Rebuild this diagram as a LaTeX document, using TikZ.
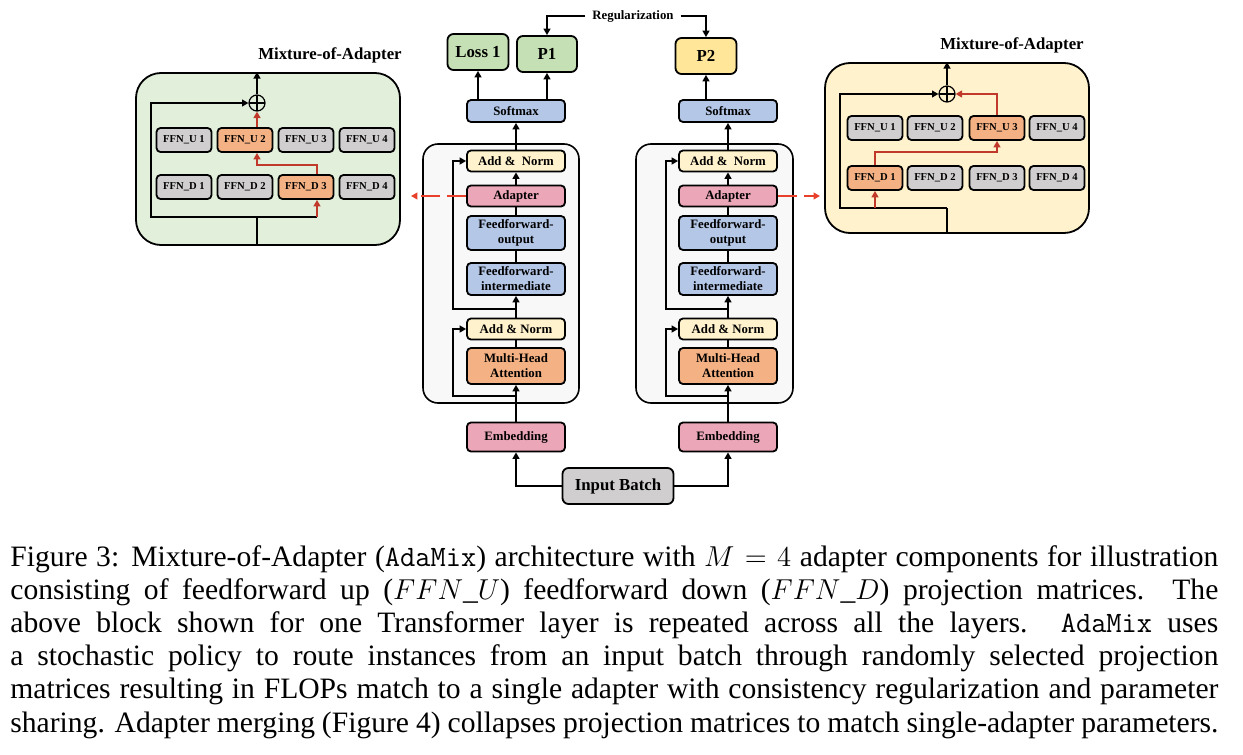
\documentclass[tikz,border=0pt]{standalone}
\usepackage{fontspec}
\setmainfont{Liberation Serif}
\usetikzlibrary{arrows.meta}

\definecolor{panelgreen}{HTML}{E2EFDA}
\definecolor{panelcream}{HTML}{FFF2CC}
\definecolor{blockgray}{HTML}{F8F8F8}
\definecolor{ffngray}{HTML}{D0CECE}
\definecolor{selorange}{HTML}{F4B183}
\definecolor{outgreen}{HTML}{C5E0B4}
\definecolor{outyellow}{HTML}{FFE699}
\definecolor{layerblue}{HTML}{B4C7E7}
\definecolor{layerpink}{HTML}{EBA6B8}
\definecolor{normcream}{HTML}{FFF2CC}
\definecolor{routered}{HTML}{C0392B}
\definecolor{probered}{HTML}{E8402A}

\begin{document}
\begin{tikzpicture}[
  x=0.5pt, y=-0.5pt,
  every node/.style={font=\bfseries\fontsize{6.4}{7.5}\selectfont},
  layer/.style={rectangle,draw,rounded corners=2pt,line width=0.9pt,minimum width=49pt,minimum height=10.5pt,inner sep=0pt,align=center},
  ffn/.style={layer,fill=ffngray,minimum width=27.5pt,minimum height=12pt,font=\bfseries\fontsize{5.3}{6}\selectfont},
  sel/.style={ffn,fill=selorange},
  outbox/.style={layer,rounded corners=3pt,minimum width=30.5pt,minimum height=18pt,font=\bfseries\fontsize{8.4}{10}\selectfont},
  block/.style={rectangle,draw,rounded corners=7.5pt,line width=0.8pt,fill=blockgray,inner sep=0pt},
  panel/.style={rectangle,draw,rounded corners=12.5pt,line width=0.9pt,inner sep=0pt,minimum width=132pt},
  title/.style={font=\bfseries\fontsize{8.4}{10}\selectfont},
  sumnode/.style={circle,draw,line width=0.6pt,minimum size=8pt,inner sep=0pt,
    path picture={\draw[line width=0.6pt] (path picture bounding box.north) -- (path picture bounding box.south)
      (path picture bounding box.west) -- (path picture bounding box.east);}},
  link/.style={line width=1pt},
  arr/.style={link,-{Triangle[length=3.2pt,width=3.4pt]}},
  route/.style={arr,draw=routered},
  probe/.style={arr,draw=probered,dash pattern=on 9.5pt off 3.5pt}
]
\useasboundingbox (0,0) rectangle (1243,755);

% transformer layers
\node[block,minimum width=78pt,minimum height=129.5pt] (blockL) at (501,273.5) {};
\node[block,minimum width=78.5pt,minimum height=129.5pt] (blockR) at (714.5,273.5) {};
\foreach \s/\x/\r in {L/516/453,R/728/666} {
  \node[layer,fill=layerblue,minimum height=11pt] (soft\s) at (\x,111) {Softmax};
  \node[layer,fill=normcream] (addtop\s) at (\x,161) {Add \&~~Norm};
  \node[layer,fill=layerpink] (adapt\s) at (\x,196) {Adapter};
  \node[layer,fill=layerblue,minimum height=17pt] (ffo\s) at (\x,233) {Feedforward-\\output};
  \node[layer,fill=layerblue,minimum height=16pt] (ffi\s) at (\x,279) {Feedforward-\\intermediate};
  \node[layer,fill=normcream] (addbot\s) at (\x,329) {Add \& Norm};
  \node[layer,fill=selorange,minimum height=18pt] (mha\s) at (\x,366) {Multi-Head\\Attention};
  \node[layer,fill=layerpink,minimum height=14.5pt] (emb\s) at (\x,437) {Embedding};
  \coordinate (res\s a) at (\r,396);
  \coordinate (res\s b) at (\r,309);
  \draw[arr] (emb\s) -- (mha\s);
  \draw[arr] (mha\s.south |- res\s a) -- (res\s a) |- (addbot\s.west);
  \draw[link] (mha\s) -- (addbot\s);
  \draw[arr] (addbot\s) -- (ffi\s);
  \draw[arr] (addbot\s.north |- res\s b) -- (res\s b) |- (addtop\s.west);
  \draw[link] (ffi\s) -- (ffo\s);
  \draw[link] (ffo\s) -- (adapt\s);
  \draw[arr] (adapt\s) -- (addtop\s);
  \draw[arr] (addtop\s) -- (soft\s);
}

% outputs
\node[outbox,fill=outgreen] (loss) at (478,52) {Loss 1};
\node[outbox,fill=outgreen,minimum width=30pt] (p1) at (547,54) {P1};
\node[outbox,fill=outyellow] (p2) at (706,56) {P2};
\node (reg) at (633,16) {Regularization};
\draw[arr] (softL.north -| loss) -- (loss.south);
\draw[arr] (softL.north -| p1) -- (p1.south);
\draw[arr] (softR.north -| p2) -- (p2.south);
\draw[arr] (reg.west) -| (p1.north);
\draw[arr] (reg.east) -| (p2.north);

% input
\node[outbox,fill=ffngray,minimum width=55.5pt] (batch) at (618,486) {Input Batch};
\draw[arr] (batch.west) -| (embL.south);
\draw[arr] (batch.east) -| (embR.south);

% mixture of adapter, left
\node[panel,fill=panelgreen,minimum height=86pt] (mixL) at (268,159) {};
\node[title] (titleL) at (330,55) {Mixture-of-Adapter};
\node[sumnode] (sumL) at (257,103) {};
\foreach \i/\x/\su/\sd in {1/184/ffn/ffn,2/245/sel/ffn,3/306/ffn/sel,4/367/ffn/ffn} {
  \node[\su] (uL\i) at (\x,140) {FFN\_U \i};
  \node[\sd] (dL\i) at (\x,187) {FFN\_D \i};
}
\coordinate (forkL) at (257,217);
\coordinate (cornerL) at (151,217);
\coordinate (tapL) at (317,217);
\coordinate (bendL) at (257,165);
\draw[arr] (sumL) -- (sumL |- mixL.north);
\draw[link] (sumL |- mixL.south) -- (forkL);
\draw[arr] (forkL) -- (cornerL) |- (sumL.west);
\draw[link] (forkL) -- (tapL);
\draw[route] (tapL) -- (tapL |- dL3.south);
\draw[route] (tapL |- dL3.north) |- (bendL) -- (bendL |- uL2.south);
\draw[route] (sumL |- uL2.north) -- (sumL.south);

% mixture of adapter, right
\node[panel,fill=panelcream,minimum height=85pt] (mixR) at (957,148) {};
\node[title] (titleR) at (1012,45) {Mixture-of-Adapter};
\node[sumnode] (sumR) at (947,94) {};
\foreach \i/\x/\su/\sd in {1/875/ffn/sel,2/935/ffn/ffn,3/997/sel/ffn,4/1057/ffn/ffn} {
  \node[\su] (uR\i) at (\x,128) {FFN\_U \i};
  \node[\sd] (dR\i) at (\x,178) {FFN\_D \i};
}
\coordinate (forkR) at (947,208);
\coordinate (cornerR) at (840,208);
\coordinate (tapR) at (875,208);
\coordinate (bendR) at (997,152);
\draw[arr] (sumR) -- (sumR |- mixR.north);
\draw[link] (sumR |- mixR.south) -- (forkR);
\draw[arr] (forkR) -- (cornerR) |- (sumR.west);
\draw[route] (tapR) -- (tapR |- dR1.south);
\draw[route] (tapR |- dR1.north) |- (bendR) -- (bendR |- uR3.south);
\draw[route] (bendR |- uR3.north) |- (sumR.east);

% adapter call-outs
\coordinate (tipL) at (411,196);
\coordinate (tipR) at (820,196);
\draw[probe] (adaptL.west) -- (tipL);
\draw[probe] (adaptR.east) -- (tipR);

% caption
\node[anchor=base west,inner sep=0pt,font=\fontsize{14.8}{16.6}\selectfont] (caption) at (10,566) {\vtop{\hsize=604pt \baselineskip=16.6pt
  \hbox to\hsize{Figure 3: Mixture-of-Adapter (\texttt{AdaMix}) architecture with $M=4$ adapter components for illustration}
  \hbox to\hsize{consisting of feedforward up ($FFN\_U$) feedforward down ($FFN\_D$) projection matrices. The}
  \hbox to\hsize{above block shown for one Transformer layer is repeated across all the layers. \texttt{AdaMix} uses}
  \hbox to\hsize{a stochastic policy to route instances from an input batch through randomly selected projection}
  \hbox to\hsize{matrices resulting in FLOPs match to a single adapter with consistency regularization and parameter}
  \hbox to\hsize{sharing. Adapter merging (Figure 4) collapses projection matrices to match single-adapter parameters.}}};
\end{tikzpicture}
\end{document}
